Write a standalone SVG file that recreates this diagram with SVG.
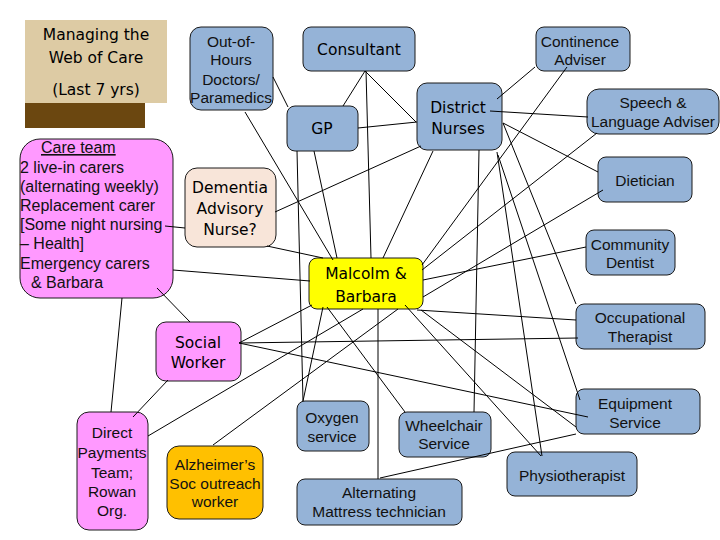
<svg xmlns="http://www.w3.org/2000/svg" width="720" height="540" viewBox="0 0 720 540">
<style>
.box{stroke:#1a1a1a;stroke-width:1}
.blue{fill:#95B3D7}
.pink{fill:#FF99FF}
.peach{fill:#F8E5D9}
.orange{fill:#FFC000}
.yellow{fill:#FFFF00}
.h{font-family:"DejaVu Sans",Verdana,sans-serif;font-size:15.5px;fill:#000;text-anchor:middle}
.t{font-family:"Liberation Sans",Arial,sans-serif;font-size:15.5px;fill:#111;text-anchor:middle}
.l{font-family:"Liberation Sans",Arial,sans-serif;font-size:16px;fill:#111}
#connectors line{stroke:#000;stroke-width:1;fill:none}
</style>
<rect width="720" height="540" fill="#fff"/>
<g id="title">
<rect x="25" y="20" width="142" height="83" fill="#DDCBA4"/>
<rect x="25" y="103" width="120" height="25" fill="#6B4710"/>
<text class="h" x="96" y="40">Managing the</text>
<text class="h" x="96" y="63">Web of Care</text>
<text class="h" x="96" y="95">(Last 7 yrs)</text>
</g>
<g id="outofhours"><rect class="box blue" x="190" y="27" width="83" height="83" rx="11"/>
<text class="t" x="231" y="47">Out-of-</text><text class="t" x="231" y="65">Hours</text><text class="t" x="231" y="85">Doctors/</text><text class="t" x="231" y="103">Paramedics</text></g>
<g id="consultant"><rect class="box blue" x="303" y="27" width="112" height="44" rx="8"/><text class="h" x="359" y="55">Consultant</text></g>
<g id="gp"><rect class="box blue" x="287" y="106" width="71" height="45" rx="8"/><text class="h" x="322" y="134">GP</text></g>
<g id="districtnurses"><rect class="box blue" x="417" y="83" width="85" height="67" rx="10"/><text class="h" x="458" y="113">District</text><text class="h" x="458" y="134">Nurses</text></g>
<g id="continence"><rect class="box blue" x="536" y="27" width="94" height="44" rx="8"/><text class="t" x="580" y="47">Continence</text><text class="t" x="580" y="65">Adviser</text></g>
<g id="speech"><rect class="box blue" x="587" y="89" width="132" height="45" rx="12"/><text class="t" x="653" y="108">Speech &amp;</text><text class="t" x="653" y="127">Language Adviser</text></g>
<g id="careteam"><rect class="box pink" x="20" y="139" width="153" height="159" rx="20"/>
<text class="l" x="41" y="153" text-decoration="underline">Care team</text>
<text class="l" x="20" y="173">2 live-in carers</text>
<text class="l" x="20" y="192">(alternating weekly)</text>
<text class="l" x="20" y="211">Replacement carer</text>
<text class="l" x="20" y="230">[Some night nursing</text>
<text class="l" x="20" y="249">– Health]</text>
<text class="l" x="20" y="269">Emergency carers</text>
<text class="l" x="31" y="288">&amp; Barbara</text></g>
<g id="dementia"><rect class="box peach" x="185" y="168" width="91" height="79" rx="12"/><text class="h" x="230" y="193">Dementia</text><text class="h" x="230" y="214">Advisory</text><text class="h" x="230" y="235">Nurse?</text></g>
<g id="dietician"><rect class="box blue" x="598" y="157" width="94" height="45" rx="8"/><text class="t" x="645" y="186">Dietician</text></g>
<g id="dentist"><rect class="box blue" x="586" y="230" width="89" height="45" rx="8"/><text class="t" x="630" y="250">Community</text><text class="t" x="630" y="268">Dentist</text></g>
<g id="malcolm"><rect class="box yellow" x="309" y="258" width="114" height="51" rx="8"/><text class="h" x="366" y="279">Malcolm &amp;</text><text class="h" x="366" y="302">Barbara</text></g>
<g id="ot"><rect class="box blue" x="576" y="304" width="129" height="45" rx="8"/><text class="t" x="640" y="323">Occupational</text><text class="t" x="640" y="342">Therapist</text></g>
<g id="socialworker"><rect class="box pink" x="156" y="322" width="85" height="59" rx="10"/><text class="h" x="198" y="348">Social</text><text class="h" x="198" y="368">Worker</text></g>
<g id="directpayments"><rect class="box pink" x="77" y="412" width="71" height="118" rx="12"/><text class="t" x="112" y="438">Direct</text><text class="t" x="112" y="458">Payments</text><text class="t" x="112" y="478">Team;</text><text class="t" x="112" y="497">Rowan</text><text class="t" x="112" y="516">Org.</text></g>
<g id="alzheimers"><rect class="box orange" x="167" y="446" width="96" height="73" rx="12"/><text class="t" x="215" y="470">Alzheimer’s</text><text class="t" x="215" y="489">Soc outreach</text><text class="t" x="215" y="507">worker</text></g>
<g id="oxygen"><rect class="box blue" x="297" y="401" width="72" height="50" rx="8"/><text class="t" x="332" y="423">Oxygen</text><text class="t" x="332" y="442">service</text></g>
<g id="wheelchair"><rect class="box blue" x="399" y="412" width="92" height="45" rx="8"/><text class="t" x="444" y="431">Wheelchair</text><text class="t" x="444" y="449">Service</text></g>
<g id="equipment"><rect class="box blue" x="576" y="389" width="124" height="45" rx="8"/><text class="t" x="635" y="409">Equipment</text><text class="t" x="635" y="428">Service</text></g>
<g id="physio"><rect class="box blue" x="507" y="452" width="130" height="44" rx="8"/><text class="t" x="572" y="481">Physiotherapist</text></g>
<g id="mattress"><rect class="box blue" x="297" y="479" width="165" height="46" rx="8"/><text class="t" x="379" y="498">Alternating</text><text class="t" x="379" y="517">Mattress technician</text></g>
<g id="connectors">
<line x1="273" y1="77" x2="288" y2="107"/>
<line x1="245" y1="112" x2="333" y2="260"/>
<line x1="297" y1="151" x2="303" y2="401"/>
<line x1="314" y1="151" x2="337" y2="258"/>
<line x1="358" y1="128" x2="417" y2="122"/>
<line x1="365" y1="71" x2="343" y2="106"/>
<line x1="365" y1="71" x2="416" y2="122"/>
<line x1="366" y1="71" x2="371" y2="258"/>
<line x1="275" y1="212" x2="421" y2="146"/>
<line x1="267" y1="246" x2="323" y2="258"/>
<line x1="165" y1="226" x2="185" y2="228"/>
<line x1="173" y1="270" x2="310" y2="281"/>
<line x1="157" y1="288" x2="190" y2="322"/>
<line x1="122" y1="298" x2="111" y2="412"/>
<line x1="168" y1="380" x2="133" y2="417"/>
<line x1="148" y1="436" x2="363" y2="309"/>
<line x1="213" y1="445" x2="398" y2="309"/>
<line x1="239" y1="343" x2="312" y2="305"/>
<line x1="239" y1="343" x2="578" y2="338"/>
<line x1="239" y1="343" x2="588" y2="417"/>
<line x1="323" y1="307" x2="303" y2="401"/>
<line x1="327" y1="307" x2="405" y2="412"/>
<line x1="378" y1="309" x2="378" y2="479"/>
<line x1="405" y1="305" x2="541" y2="456"/>
<line x1="417" y1="310" x2="576" y2="320"/>
<line x1="421" y1="310" x2="576" y2="427"/>
<line x1="380" y1="478" x2="576" y2="434"/>
<line x1="479" y1="150" x2="474" y2="412"/>
<line x1="497" y1="152" x2="542" y2="456"/>
<line x1="498" y1="155" x2="580" y2="400"/>
<line x1="503" y1="123" x2="576" y2="304"/>
<line x1="503" y1="123" x2="598" y2="172"/>
<line x1="433" y1="151" x2="383" y2="258"/>
<line x1="490" y1="111" x2="588" y2="117"/>
<line x1="535" y1="67" x2="497" y2="99"/>
<line x1="567" y1="67" x2="422" y2="265"/>
<line x1="597" y1="133" x2="422" y2="270"/>
<line x1="603" y1="190" x2="423" y2="297"/>
<line x1="586" y1="247" x2="423" y2="280"/>
</g>
</svg>
